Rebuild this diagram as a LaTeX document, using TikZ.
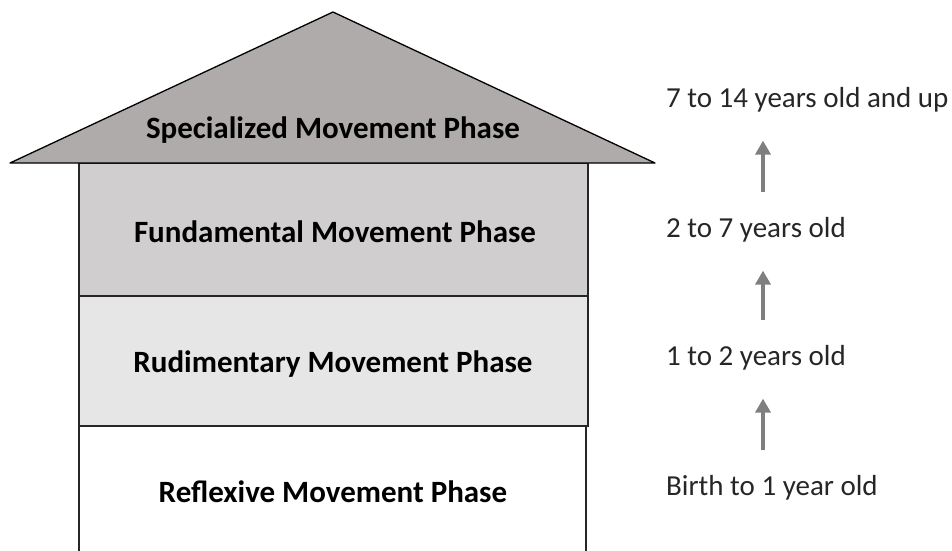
\documentclass[tikz,border=0pt]{standalone}
\usepackage{fontspec}
\setmainfont{Carlito}
\usetikzlibrary{arrows.meta}
\definecolor{roofgrey}{HTML}{AFABAB}
\definecolor{fundgrey}{HTML}{D0CECE}
\definecolor{rudigrey}{HTML}{E7E6E6}
\definecolor{arrowgrey}{HTML}{7F7F7F}
\tikzset{
  phase/.style={font=\fontsize{31}{35}\selectfont\bfseries},
  age/.style={anchor=west, inner sep=0pt, font=\fontsize{29}{33}\selectfont, text=black!85},
  agearrow/.style={draw=arrowgrey, line width=4pt, -{Triangle[width=15pt,length=14pt]}},
  wall/.style={draw=black!85, line width=1.3pt}
}
\begin{document}
\begin{tikzpicture}[x=1pt,y=-1pt]
\useasboundingbox (0,0) rectangle (952,550);
\draw [wall] (79,551) -- (79,426) -- (586,426) -- (586,551);
\draw [wall, fill=rudigrey] (79,296) rectangle (588,426);
\draw [wall, fill=fundgrey] (79,163) rectangle (588,296);
\draw [wall, draw=black, fill=roofgrey, line join=round] (10,163) -- (333,12) -- (655,163) -- cycle;
\node [phase] (special) at (333,130) {Specialized Movement Phase};
\node [phase] (fundament) at (335,232) {Fundamental Movement Phase};
\node [phase] (rudiment) at (333,364) {Rudimentary Movement Phase};
\node [phase] (reflex) at (333,492) {Reflexive Movement Phase};
\coordinate (ax) at (763,0);
\node [age] (age4) at (666,100) {7 to 14 years old and up};
\node [age] (age3) at (666,230) {2 to 7 years old};
\node [age] (age2) at (666,358) {1 to 2 years old};
\node [age] (age1) at (666,488) {Birth to 1 year old};
\draw [agearrow, shorten <=25pt, shorten >=28pt] (age3.north -| ax) -- (age4.south -| ax);
\draw [agearrow, shorten <=25pt, shorten >=28pt] (age2.north -| ax) -- (age3.south -| ax);
\draw [agearrow, shorten <=25pt, shorten >=28pt] (age1.north -| ax) -- (age2.south -| ax);
\end{tikzpicture}
\end{document}
